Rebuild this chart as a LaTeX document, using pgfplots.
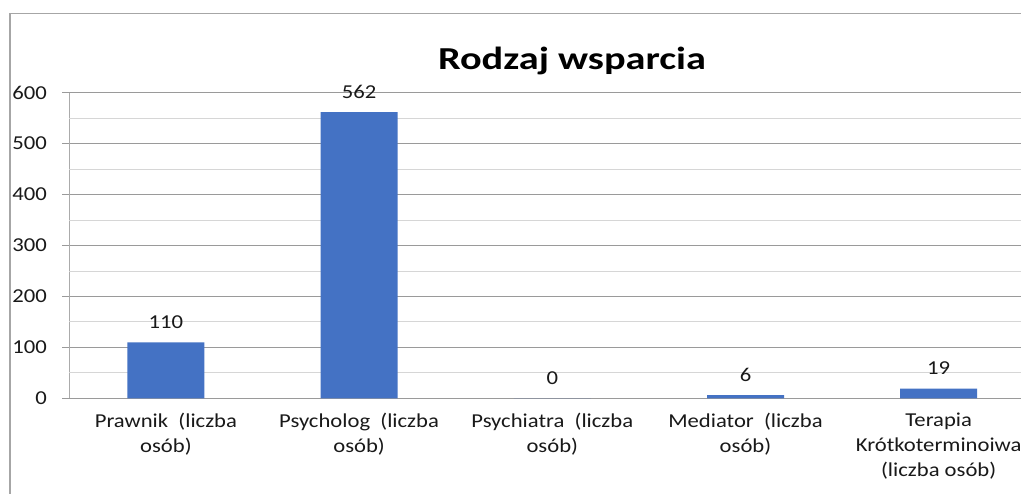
\documentclass[border=0pt]{standalone}
\usepackage{pgfplots}
\pgfplotsset{compat=1.18}
\usepackage{fontspec}
\setmainfont{Carlito}[FakeStretch=1.15]
\newfontfamily\titlefont{Carlito}[FakeStretch=1.26]
\definecolor{barblue}{HTML}{4472C4}
\definecolor{majgrid}{HTML}{9A9A9A}
\definecolor{mingrid}{HTML}{D6D6D6}
\definecolor{frame}{HTML}{A6A6A6}
\begin{document}
\begin{tikzpicture}
\clip (0,0) rectangle (1021pt,494pt);
\fill[white] (0,0) rectangle (1021pt,494pt);
\draw[frame, line width=1.6pt] (10pt,-20pt) -- (10pt,480.5pt) -- (1040pt,480.5pt);
\node[font=\titlefont\bfseries\fontsize{32}{36}\selectfont, anchor=base, inner sep=0pt] at (572pt,424.7pt) {Rodzaj wsparcia};
\begin{axis}[
  at={(69.3pt,95.7pt)}, anchor=south west,
  scale only axis, width=966pt, height=305.6pt,
  xmin=-0.5, xmax=4.5, ymin=0, ymax=600,
  axis x line*=bottom, axis y line*=left,
  x axis line style={majgrid, line width=0.8pt, -},
  y axis line style={mingrid!80!black, line width=0.8pt, -},
  ytick={0,100,...,600},
  ymajorgrids, major grid style={majgrid, line width=0.8pt},
  extra y ticks={50,150,...,550}, extra y tick labels={},
  extra y tick style={grid=major, major grid style={mingrid, line width=0.8pt}, major tick length=0pt},
  xtick={0,1,2,3,4},
  xticklabels={{Prawnik\ \ (liczba\\osób)},{Psycholog\ \ (liczba\\osób)},{Psychiatra\ \ (liczba\\osób)},{Mediator\ \ (liczba\\osób)},{Terapia\\Krótkoterminoiwa\\(liczba osób)}},
  major x tick style={draw=none},
  extra x ticks={-0.5,0.5,1.5,2.5,3.5,4.5}, extra x tick labels={},
  extra x tick style={major tick length=7pt, tick align=outside, major tick style={draw=majgrid, line width=0.8pt}, xmajorgrids=false},
  tick align=outside, major tick length=7pt,
  y tick style={majgrid, line width=0.8pt},
  /pgf/number format/assume math mode=true,
  tick label style={font=\fontsize{19.7}{25}\selectfont, text=black!90},
  xticklabel style={align=center, yshift=-4pt},
  yticklabel style={xshift=-12pt},
  ybar, bar width=77pt,
  nodes near coords,
  every node near coord/.append style={font=\fontsize{19.7}{24}\selectfont, text=black!90, anchor=base, yshift=14pt, inner sep=0pt},
]
\addplot[fill=barblue, draw=none] coordinates {(0,110) (1,562) (2,0) (3,6) (4,19)};
\end{axis}
\end{tikzpicture}
\end{document}
